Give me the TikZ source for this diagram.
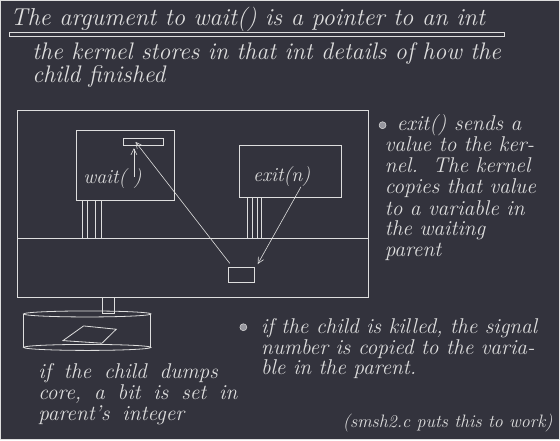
\documentclass[tikz,border=0pt]{standalone}
\usetikzlibrary{arrows.meta}
\definecolor{bg}{RGB}{51,51,61}
\definecolor{fg}{RGB}{222,222,222}
\definecolor{bul}{RGB}{150,150,158}
\begin{document}
\begin{tikzpicture}[x=1pt,y=-1pt,line width=0.8pt,
  every path/.style={draw=fg},
  txt/.style={text=fg,inner sep=0,outer sep=0,anchor=base west,draw=none},
  titlefont/.style={txt,font=\itshape\fontsize{24.5}{26}\selectfont},
  subfont/.style={txt,font=\itshape\fontsize{24}{26}\selectfont},
  bodyfont/.style={txt,font=\itshape\fontsize{21.4}{23}\selectfont},
  leftfont/.style={txt,font=\itshape\fontsize{21.4}{23}\selectfont,
    execute at begin node={\spaceskip=0.6em\relax}},
  labelfont/.style={txt,font=\itshape\fontsize{20}{22}\selectfont},
  notefont/.style={txt,font=\itshape\fontsize{18}{20}\selectfont},
  boxnode/.style={draw=fg,inner sep=0,outer sep=0,anchor=north west},
  arr/.style={draw=fg,line width=0.6pt,-{Straight Barb[length=6pt,width=6pt]}},
  bullet/.style={fill=bul,draw=fg,line width=0.5pt}]
\fill[bg,draw=none] (0,0) rectangle (560,440);
\useasboundingbox (0,0) rectangle (560,440);

% title
\node[titlefont] (title) at (10,25.5) {The argument to wait() is a pointer to an int};
\draw (9.5,32.5) rectangle (505,35.8);
\node[subfont] (sub1) at (32,59.3) {the kernel stores in that int details of how the};
\node[subfont] (sub2) at (32,82.7) {child finished};

% computer
\node[boxnode,minimum width=351.4pt,minimum height=187pt] (comp) at (17.3,110.3) {};
\draw (17.3,238.3) -- (368.7,238.3);
\node[boxnode,minimum width=98.4pt,minimum height=70pt] (waitbox) at (76.3,130.3) {};
\node[boxnode,minimum width=102.4pt,minimum height=52.4pt] (exitbox) at (239.3,145.3) {};
\node[boxnode,minimum width=40.4pt,minimum height=7pt] (wslot) at (123.3,138.3) {};
\node[boxnode,minimum width=26.4pt,minimum height=15.7pt] (kslot) at (228.3,267) {};
\foreach \x in {82.3,87.3,95.5,101.3} \draw (\x,200.3) -- (\x,238.3);
\foreach \x in {247.3,252.3,257,261.7} \draw (\x,197.7) -- (\x,238.3);

\node[labelfont] (waitlbl) at (83,183.3) {wait(\hspace{0.35em})};
\node[labelfont] (exitlbl) at (253,181) {exit(n)};

\coordinate (u1) at (133.7,177);
\coordinate (u2) at (133.7,148);
\draw[arr] (u1) -- (u2);
\coordinate (a1s) at (229.7,263.3);
\coordinate (a1e) at (135.3,141.7);
\draw[arr] (a1s) -- (a1e);
\coordinate (a2s) at (301,186.7);
\coordinate (a2e) at (257.7,264);
\draw[arr] (a2s) -- (a2e);

% monitor base
\draw (102.3,297.3) rectangle (114.3,313.3);
\draw (87,314) ellipse [x radius=63.7, y radius=3];
\draw (87,347.5) ellipse [x radius=63.7, y radius=3];
\draw (23.3,314) -- (23.3,347.5);
\draw (150.7,314) -- (150.7,347.5);
\draw (62.7,340.7) -- (83.3,326) -- (116,329.3) -- (101.7,343.3) -- cycle;

% right text
\filldraw[bullet] (382.7,125) circle (3.5);
\node[bodyfont] (r1) at (397,130) {exit() sends a};
\node[bodyfont] (r2) at (385,151.7) {value to the ker-};
\node[bodyfont] (r3) at (385,172.3) {nel.\ \ The kernel};
\node[bodyfont] (r4) at (385,193.3) {copies that value};
\node[bodyfont] (r5) at (385,215) {to a variable in};
\node[bodyfont] (r6) at (385,235.7) {the waiting};
\node[bodyfont] (r7) at (385,256.7) {parent};

% bottom left text
\node[leftfont] (b1) at (38,379) {if the child dumps};
\node[leftfont] (b2) at (38,400) {core, a bit is set in};
\node[leftfont] (b3) at (38,420.7) {parent's integer};

% bottom right text
\filldraw[bullet] (243.3,327.3) circle (3.5);
\node[bodyfont] (k1) at (261,333.3) {if the child is killed, the signal};
\node[bodyfont] (k2) at (261,355) {number is copied to the varia-};
\node[bodyfont] (k3) at (261,375) {ble in the parent.};
\node[notefont] (note) at (343,427.3) {(smsh2.c puts this to work)};
\end{tikzpicture}
\end{document}
